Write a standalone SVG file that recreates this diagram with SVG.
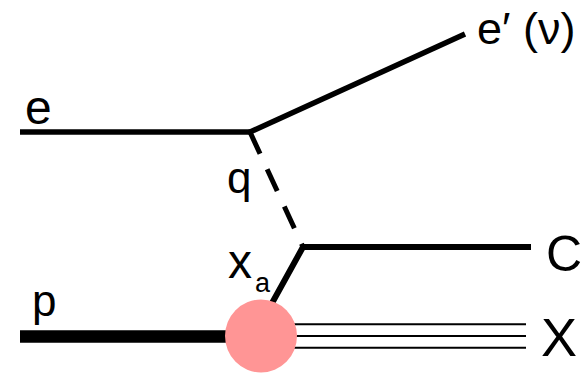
<svg xmlns="http://www.w3.org/2000/svg" width="585" height="374" viewBox="0 0 585 374">
<style>
.ln{stroke:#000;fill:none;stroke-linecap:butt;stroke-linejoin:round}
.lbl{font-family:"Liberation Sans",Arial,sans-serif;fill:#000}
</style>
<rect width="585" height="374" fill="#fff"/>
<g id="connectors">
<line class="ln" x1="20" y1="132" x2="251" y2="132" stroke-width="5.5"/>
<line class="ln" x1="249" y1="132.5" x2="465" y2="34" stroke-width="5.5"/>
<line class="ln" x1="250" y1="132" x2="303" y2="247" stroke-width="5" stroke-dasharray="24 17"/>
<path class="ln" d="M266 314 L303 247 L531 247" stroke-width="6"/>
<line class="ln" x1="20" y1="336.5" x2="262" y2="336.5" stroke-width="12.5"/>
<line class="ln" x1="280" y1="324.3" x2="526" y2="324.3" stroke-width="2"/>
<line class="ln" x1="280" y1="336" x2="526" y2="336" stroke-width="2"/>
<line class="ln" x1="280" y1="347.7" x2="526" y2="347.7" stroke-width="2"/>
</g>
<g id="blob">
<ellipse cx="261" cy="336" rx="36" ry="36.5" fill="#ff9595"/>
</g>
<g id="label-e"><text class="lbl" x="25" y="124" font-size="48">e</text></g>
<g id="label-eprime"><text class="lbl" x="477" y="44" font-size="45">e′ (ν)</text></g>
<g id="label-q"><text class="lbl" x="227" y="193" font-size="44">q</text></g>
<g id="label-xa"><text class="lbl" x="228" y="278" font-size="48">x</text><text class="lbl" x="255" y="292" font-size="27">a</text></g>
<g id="label-p"><text class="lbl" x="32" y="316" font-size="44">p</text></g>
<g id="label-C"><text class="lbl" x="546" y="271" font-size="50">C</text></g>
<g id="label-X"><text class="lbl" x="541" y="356" font-size="54">X</text></g>
</svg>
